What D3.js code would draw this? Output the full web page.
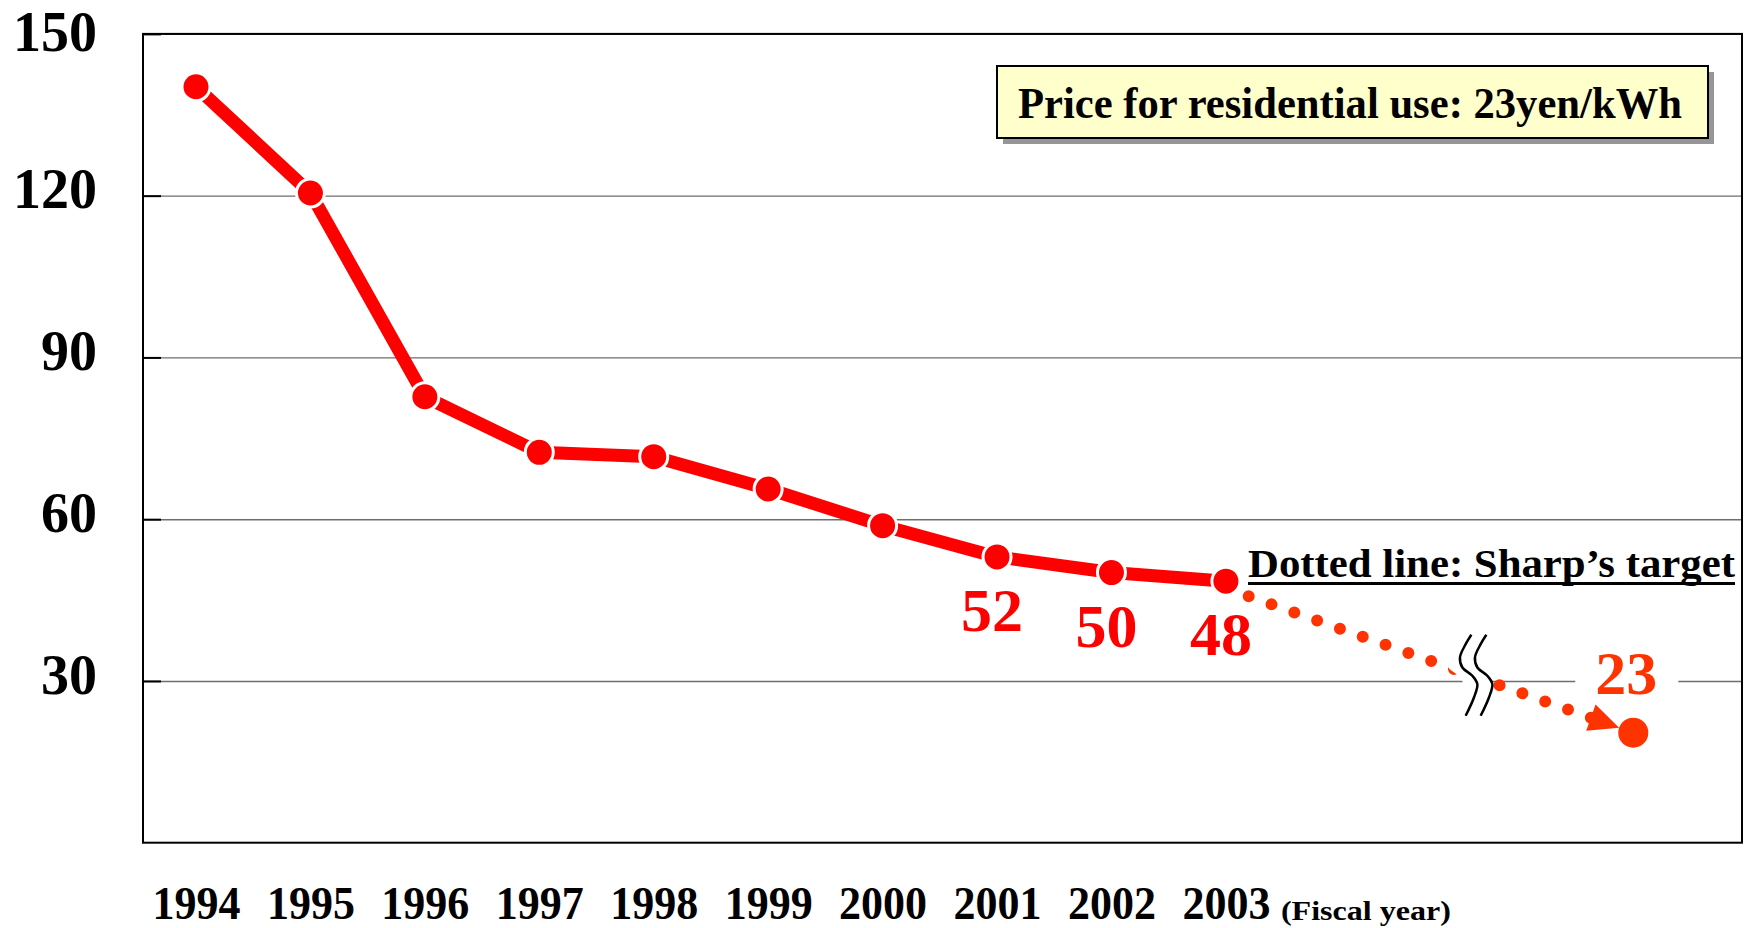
<!DOCTYPE html>
<html><head><meta charset="utf-8">
<script src="https://cdn.jsdelivr.net/npm/d3@7"></script>
<style>
body{margin:0;background:#fff}
svg{display:block}
text{font-family:"Liberation Serif","Times New Roman",serif;font-weight:bold}
</style>
</head><body>
<svg id="chart" width="1747" height="928"></svg>
<script>
// ---- data ----
const years = ["1994","1995","1996","1997","1998","1999","2000","2001","2002","2003"];
const prices = [140.2, 120.5, 82.7, 72.4, 71.6, 65.6, 58.8, 53.0, 50.1, 48.5];
const labeledYears = ["2001","2002","2003"];
const labeledTexts = ["52","50","48"];
const yTicks = [30, 60, 90, 120, 150];
const targetSlot = [12.56];
const targetValue = [20.4];
const targetLabel = ["23"];
const breakSlot = [11.2];
const legendText = "Price for residential use: 23yen/kWh";
const noteText = "Dotted line: Sharp\u2019s target";
const axisNote = "(Fiscal year)";

// ---- layout ----
const L = 143, R = 1742, T = 33.9, B = 842.7;
const svg = d3.select("#chart");
const x = d3.scaleLinear().domain([-0.463, 13.51]).range([L, R]);
const y = d3.scaleLinear().domain([0, 150]).range([B, T]);

// gridlines
svg.append("g").attr("transform", `translate(${L},0)`)
  .call(d3.axisLeft(y).tickValues(yTicks).tickSize(-(R - L)).tickFormat(""))
  .call(g => g.select(".domain").remove())
  .call(g => g.selectAll("line").attr("stroke", "#6e6e6e").attr("stroke-width", 1.4));

// inner tick marks
svg.append("g").attr("transform", `translate(${L},0)`)
  .call(d3.axisRight(y).tickValues(yTicks).tickSize(18).tickFormat(""))
  .call(g => g.select(".domain").remove())
  .call(g => g.selectAll("line").attr("stroke", "#000").attr("stroke-width", 2));

// y labels
svg.append("g").attr("transform", `translate(${L},0)`)
  .call(d3.axisLeft(y).tickValues(yTicks).tickSize(0).tickPadding(46))
  .call(g => g.select(".domain").remove())
  .call(g => g.selectAll("text").attr("font-size", 56)
      .attr("dy", d => d === 150 ? "0.29em" : "0.22em")
      .attr("fill", "#000").attr("font-family", null));

// x labels
svg.append("g").attr("transform", `translate(0,${B})`)
  .call(d3.axisBottom(x).tickValues(d3.range(years.length)).tickFormat(i => years[i]).tickSize(0).tickPadding(44))
  .call(g => g.select(".domain").remove())
  .call(g => g.selectAll("text").attr("font-size", 46).attr("fill", "#000")
      .attr("font-family", null).attr("textLength", 88).attr("lengthAdjust", "spacingAndGlyphs"));
svg.append("text").attr("x", x(years.length - 1) + 55).attr("y", 920)
  .attr("font-size", 28).attr("textLength", 170).attr("lengthAdjust", "spacingAndGlyphs")
  .text(axisNote);

// plot border
svg.append("rect").attr("x", L).attr("y", T).attr("width", R - L).attr("height", B - T)
  .attr("fill", "none").attr("stroke", "#000").attr("stroke-width", 2);

// target geometry
const p0 = [x(years.length - 1), y(prices[prices.length - 1]) + 7];
const pt = [x(targetSlot[0]), y(targetValue[0])];
const dx = pt[0] - p0[0], dy = pt[1] - p0[1];
const len = Math.hypot(dx, dy);
const ux = dx / len, uy = dy / len;
const tr = 15, arrowLen = 30, arrowHalf = 14;
const tip = [pt[0] - ux * tr, pt[1] - uy * tr];
const base = [tip[0] - ux * arrowLen, tip[1] - uy * arrowLen];

// white box behind "23" label (interrupts gridline)
svg.append("rect").attr("x", pt[0] - 58).attr("y", pt[1] - 85).attr("width", 103).attr("height", 50).attr("fill", "#fff");

// dotted target line
svg.append("line").attr("x1", p0[0]).attr("y1", p0[1]).attr("x2", base[0]).attr("y2", base[1])
  .attr("stroke", "#FF3300").attr("stroke-width", 12).attr("stroke-linecap", "round")
  .attr("stroke-dasharray", "0 24.2");
// arrow head
svg.append("polygon")
  .attr("points", [tip, [base[0] - uy * arrowHalf, base[1] + ux * arrowHalf], [base[0] + uy * arrowHalf, base[1] - ux * arrowHalf]].map(p => p.join(",")).join(" "))
  .attr("fill", "#FF3300");
// target point
svg.append("circle").attr("cx", pt[0]).attr("cy", pt[1]).attr("r", tr).attr("fill", "#FF3300");
svg.append("text").attr("x", pt[0] - 7).attr("y", pt[1] - 38.7).attr("text-anchor", "middle")
  .attr("font-size", 62).attr("fill", "#FF3300").text(targetLabel[0]);

// axis break symbol
const bx = x(breakSlot[0]);
const by = p0[1] + (bx - p0[0]) / dx * dy;
const wave = [[-6.3,-42.7],[-12,-33.3],[-17.7,-20],[-15.3,-10],[-5.3,-1.7],[-0.3,6.7],[-3.7,20],[-12,38.3]];
const curve = d3.line().curve(d3.curveCatmullRom);
const w1 = wave.map(p => [bx + p[0], by + p[1]]);
const w2 = wave.map(p => [bx + p[0] + 15, by + p[1]]);
const w1s = wave.map(p => [bx + p[0] - 14, by + p[1]]);
svg.append("path").attr("d", curve(w1s) + "L" + curve(w2.slice().reverse()).slice(1) + "Z")
  .attr("fill", "#fff");
svg.append("path").attr("d", curve(w1)).attr("fill", "none").attr("stroke", "#000").attr("stroke-width", 2.5);
svg.append("path").attr("d", curve(w2)).attr("fill", "none").attr("stroke", "#000").attr("stroke-width", 2.5);

// main line
svg.append("path").datum(prices)
  .attr("d", d3.line().x((d, i) => x(i)).y(d => y(d)))
  .attr("fill", "none").attr("stroke", "#FF0000").attr("stroke-width", 13).attr("stroke-linejoin", "round");
svg.append("g").selectAll("circle").data(prices).join("circle")
  .attr("cx", (d, i) => x(i)).attr("cy", d => y(d)).attr("r", 14)
  .attr("fill", "#FF0000").attr("stroke", "#fff").attr("stroke-width", 3);

// value labels
svg.append("g").selectAll("text").data(labeledYears).join("text")
  .attr("x", d => x(years.indexOf(d)) - 5)
  .attr("y", d => y(prices[years.indexOf(d)]) + 74)
  .attr("text-anchor", "middle").attr("font-size", 62).attr("fill", "#FF0000")
  .text((d, i) => labeledTexts[i]);

// note: dotted line
svg.append("text").attr("x", 1248).attr("y", 577).attr("font-size", 40)
  .attr("textLength", 487).attr("lengthAdjust", "spacingAndGlyphs").text(noteText);
svg.append("line").attr("x1", 1248).attr("x2", 1735).attr("y1", 583.5).attr("y2", 583.5)
  .attr("stroke", "#000").attr("stroke-width", 3);

// legend box
const lb = {x: 997, y: 66, w: 711, h: 72};
svg.append("rect").attr("x", lb.x + 6).attr("y", lb.y + 6).attr("width", lb.w).attr("height", lb.h).attr("fill", "#969696");
svg.append("rect").attr("x", lb.x).attr("y", lb.y).attr("width", lb.w).attr("height", lb.h)
  .attr("fill", "#FFFFCC").attr("stroke", "#000").attr("stroke-width", 2);
svg.append("text").attr("x", 1018).attr("y", 118).attr("font-size", 45)
  .attr("textLength", 664).attr("lengthAdjust", "spacingAndGlyphs").text(legendText);
</script>
</body></html>
